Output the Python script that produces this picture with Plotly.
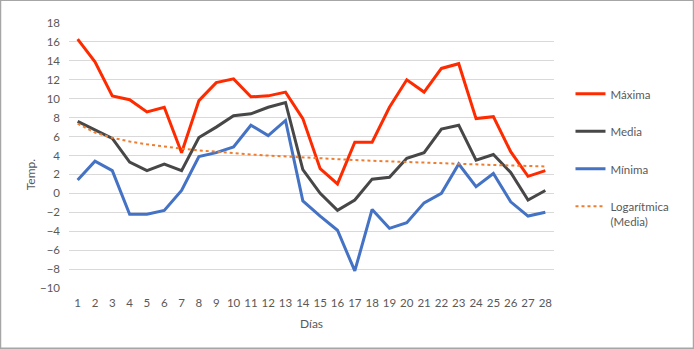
import numpy as np
import plotly.graph_objects as go

dias = list(range(1, 29))
maxima = [16.3, 13.9, 10.3, 9.9, 8.6, 9.1, 4.3, 9.8, 11.7, 12.1, 10.2, 10.3, 10.7, 7.9,
          2.6, 1.0, 5.4, 5.4, 9.1, 12.0, 10.7, 13.2, 13.7, 7.9, 8.1, 4.4, 1.8, 2.4]
media = [7.6, 6.7, 5.8, 3.3, 2.4, 3.1, 2.4, 5.9, 7.0, 8.2, 8.4, 9.1, 9.6, 2.5,
         0.0, -1.8, -0.7, 1.5, 1.7, 3.7, 4.3, 6.8, 7.2, 3.5, 4.1, 2.2, -0.7, 0.3]
minima = [1.4, 3.4, 2.4, -2.2, -2.2, -1.8, 0.3, 3.9, 4.3, 4.9, 7.2, 6.1, 7.7, -0.8,
          -2.4, -3.9, -8.2, -1.7, -3.7, -3.1, -1.0, 0.0, 3.1, 0.7, 2.1, -0.9, -2.4, -2.0]
y_ticks = list(range(-10, 19, 2))

# Logarithmic trendline of "Media" (least squares fit, as the spreadsheet does)
b, a = np.polyfit(np.log(dias), media, 1)
tendencia = a + b * np.log(dias)

FONT = "Lato"
TXT = "#595959"

fig = go.Figure()
fig.add_trace(go.Scatter(x=dias, y=maxima, mode="lines", name="Máxima",
                         line=dict(color="#FF2B00", width=3), legendgroup="a"))
fig.add_trace(go.Scatter(x=dias, y=media, mode="lines", name="Media",
                         line=dict(color="#474747", width=3), legendgroup="b"))
fig.add_trace(go.Scatter(x=dias, y=minima, mode="lines", name="Mínima",
                         line=dict(color="#4472C4", width=3), legendgroup="c"))
fig.add_trace(go.Scatter(x=dias, y=tendencia, mode="lines", name="Logarítmica<br>(Media)",
                         line=dict(color="#ED7D31", width=2, dash="dot"), legendgroup="d"))

fig.update_layout(
    width=694, height=349,
    margin=dict(l=69, r=140, t=23, b=61),
    paper_bgcolor="white", plot_bgcolor="white",
    font=dict(family=FONT, size=11.5, color=TXT),
    showlegend=True,
    legend=dict(x=1.034, xanchor="left", y=0.786, yanchor="top",
                tracegroupgap=18.5, valign="top",
                font=dict(family=FONT, size=11.5, color=TXT),
                bgcolor="rgba(0,0,0,0)"),
    xaxis=dict(range=[0.5, 28.5], tickmode="array", tickvals=dias,
               ticktext=[str(d) for d in dias], showgrid=False, zeroline=False,
               showline=False, ticks="", ticklabelstandoff=6,
               tickfont=dict(family=FONT, size=11.5, color=TXT)),
    yaxis=dict(range=[-10, 18], tickmode="array", tickvals=y_ticks,
               showgrid=True, gridcolor="#D9D9D9", gridwidth=1, zeroline=False,
               showline=False, ticks="", ticklabelstandoff=8,
               tickfont=dict(family=FONT, size=11.5, color=TXT)),
    annotations=[
        dict(text="Días", xref="paper", yref="paper", x=0.5, y=-0.133,
             xanchor="center", yanchor="middle", showarrow=False,
             font=dict(family=FONT, size=12, color=TXT)),
        dict(text="Temp.", xref="paper", yref="paper", x=-0.08, y=0.43,
             xanchor="center", yanchor="middle", showarrow=False, textangle=-90,
             font=dict(family=FONT, size=12, color=TXT)),
    ],
    shapes=[dict(type="rect", xref="paper", yref="paper",
                 x0=(0.5 - 69) / 485, x1=(693.5 - 69) / 485,
                 y0=(288.3 - 348.5) / 265, y1=(288.3 - 0.5) / 265,
                 line=dict(color="#A6A6A6", width=1.5), layer="below")],
)

fig.write_html("out.html")
